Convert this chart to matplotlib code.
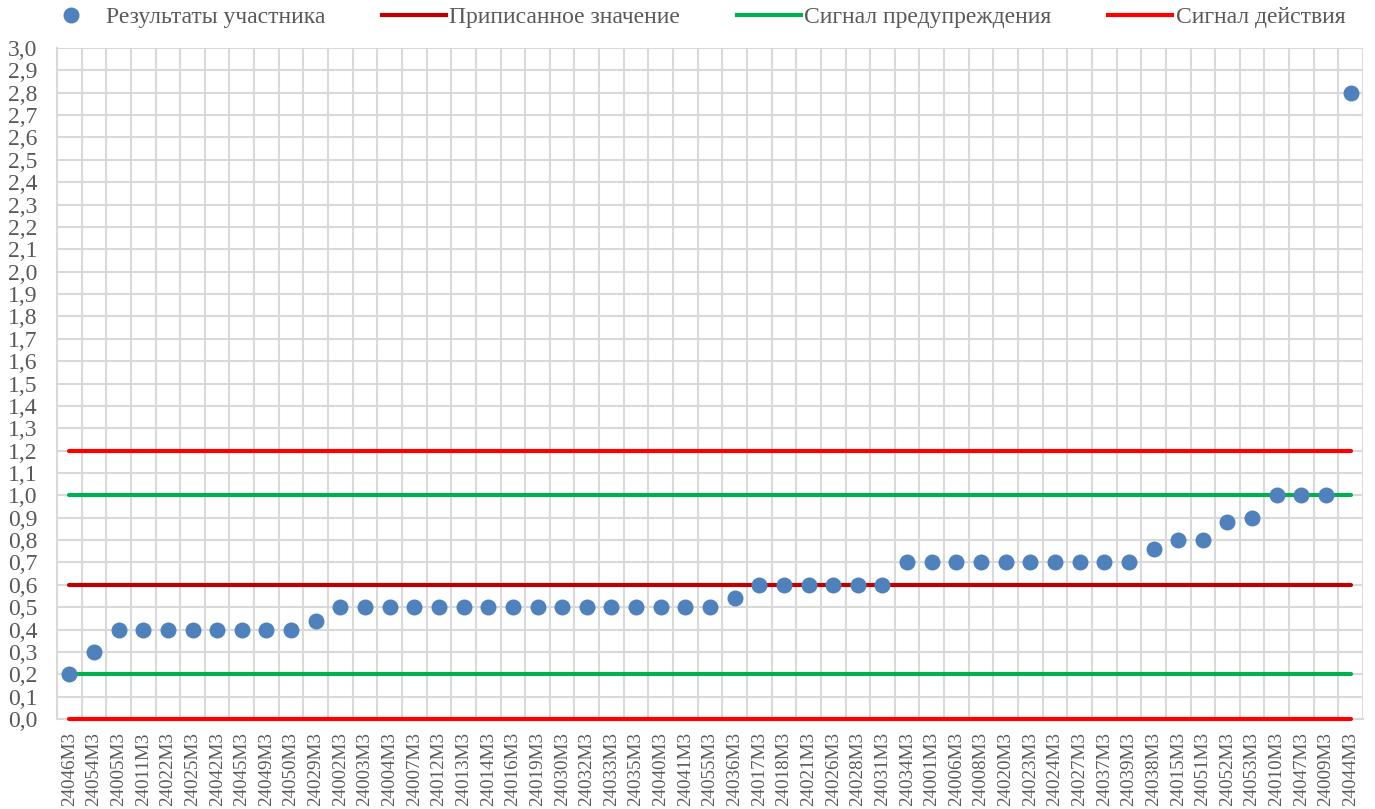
import matplotlib
matplotlib.use("Agg")
import matplotlib.pyplot as plt
from matplotlib.ticker import FixedLocator
from matplotlib.lines import Line2D

labels = ["24046M3", "24054M3", "24005M3", "24011M3", "24022M3", "24025M3", "24042M3",
          "24045M3", "24049M3", "24050M3", "24029M3", "24002M3", "24003M3", "24004M3",
          "24007M3", "24012M3", "24013M3", "24014M3", "24016M3", "24019M3", "24030M3",
          "24032M3", "24033M3", "24035M3", "24040M3", "24041M3", "24055M3", "24036M3",
          "24017M3", "24018M3", "24021M3", "24026M3", "24028M3", "24031M3", "24034M3",
          "24001M3", "24006M3", "24008M3", "24020M3", "24023M3", "24024M3", "24027M3",
          "24037M3", "24039M3", "24038M3", "24015M3", "24051M3", "24052M3", "24053M3",
          "24010M3", "24047M3", "24009M3", "24044M3"]
values = [0.2, 0.3, 0.4, 0.4, 0.4, 0.4, 0.4, 0.4, 0.4, 0.4, 0.44,
          0.5, 0.5, 0.5, 0.5, 0.5, 0.5, 0.5, 0.5, 0.5, 0.5, 0.5, 0.5, 0.5, 0.5, 0.5, 0.5,
          0.54, 0.6, 0.6, 0.6, 0.6, 0.6, 0.6,
          0.7, 0.7, 0.7, 0.7, 0.7, 0.7, 0.7, 0.7, 0.7, 0.7,
          0.76, 0.8, 0.8, 0.88, 0.9, 1.0, 1.0, 1.0, 2.8]
assigned = 0.6
warning = [0.2, 1.0]
action = [0.0, 1.2]

plt.rcParams['font.family'] = ['Liberation Serif', 'DejaVu Serif']
txt = '#595959'
grid_c = '#D9D9D9'

fig = plt.figure(figsize=(13.75, 8.09), dpi=100)
W, H = 1375, 809
ax = fig.add_axes([57 / W, 1 - 719 / H, (1363 - 57) / W, (719 - 48) / H])

x = list(range(len(labels)))
x0, x1 = x[0], x[-1]
for yv, col in [(action[0], '#FF0000'), (action[1], '#FF0000'),
                (warning[0], '#00B050'), (warning[1], '#00B050'),
                (assigned, '#C00000')]:
    ax.plot([x0, x1], [yv, yv], color=col, lw=3, solid_capstyle='round', zorder=3, clip_on=False)
ax.plot(x, values, 'o', color='#4F81BD', markersize=11.5, markeredgewidth=0, zorder=4, clip_on=False)

ax.set_xlim(-0.5, len(labels) - 0.5)
ax.set_ylim(0, 3.0)
yt = [i / 10 for i in range(31)]
ax.set_yticks(yt)
ax.set_yticklabels([f"{v:.1f}".replace('.', ',') for v in yt], fontsize=17, color=txt,
                   family='Liberation Serif')
ax.set_xticks(x)
ax.set_xticklabels(labels, rotation=90, fontsize=13.8, color=txt, family='Liberation Serif')
ax.xaxis.set_minor_locator(FixedLocator([i + 0.5 for i in range(-1, len(labels))]))
ax.tick_params(axis='x', which='both', length=0, pad=9.5)
ax.tick_params(axis='y', which='major', length=0, pad=14)
ax.grid(axis='y', which='major', color=grid_c, lw=1.5, zorder=0)
ax.grid(axis='x', which='minor', color=grid_c, lw=1.5, zorder=0)
for s in ['top', 'right']:
    ax.spines[s].set_visible(False)
for s in ['left', 'bottom']:
    ax.spines[s].set_color(grid_c)
    ax.spines[s].set_linewidth(1.5)

handles = [
    Line2D([], [], marker='o', ls='none', color='#4F81BD', markersize=11.5, markeredgewidth=0),
    Line2D([], [], color='#C00000', lw=3),
    Line2D([], [], color='#00B050', lw=3),
    Line2D([], [], color='#FF0000', lw=3),
]
names = ["Результаты участника", "Приписанное значение", "Сигнал предупреждения", "Сигнал действия"]
leg = fig.legend(handles, names, loc='center', bbox_to_anchor=(692 / W, 1 - 17 / H), ncol=4,
                 frameon=False, prop={'family': 'Liberation Serif', 'size': 17},
                 handlelength=2.7, handletextpad=0.15, columnspacing=2.4, borderaxespad=0)
for t in leg.get_texts():
    t.set_color(txt)

fig.savefig('out.png', dpi=100)
